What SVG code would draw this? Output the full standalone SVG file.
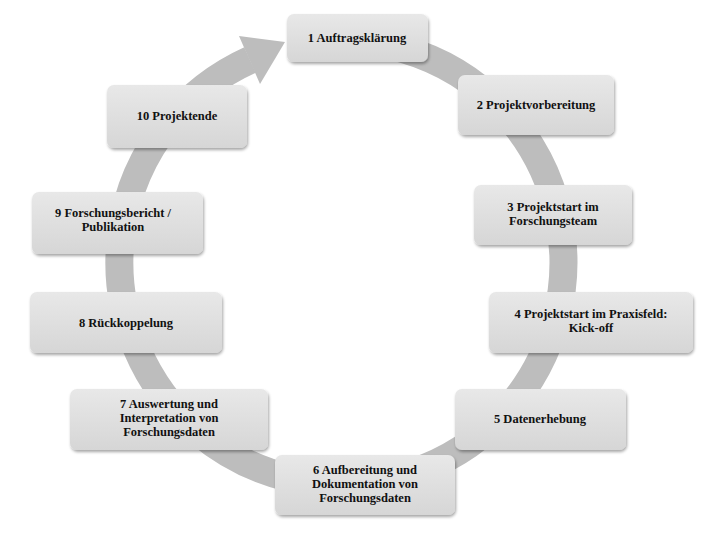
<svg xmlns="http://www.w3.org/2000/svg" width="715" height="542" viewBox="0 0 715 542">
<defs>
<linearGradient id="g" x1="0" y1="0" x2="0" y2="1"><stop offset="0" stop-color="#e8e8e8"/><stop offset="1" stop-color="#d6d6d6"/></linearGradient>
<filter id="s" x="-10%" y="-10%" width="125%" height="135%"><feDropShadow dx="1" dy="2" stdDeviation="1.5" flood-color="#000" flood-opacity="0.35"/></filter>
</defs>
<style>
.b{fill:url(#g);filter:url(#s)}
.t{font-family:'Liberation Serif','Times New Roman',serif;font-weight:bold;font-size:12.5px;text-anchor:middle;fill:#111}
</style>
<rect width="715" height="542" fill="#fff"/>
<g id="connectors">
<path d="M300 44.2 A222 222 0 1 1 250 60" fill="none" stroke="#bdbdbd" stroke-width="28"/>
<polygon points="285,42 239,36 260,84" fill="#bdbdbd"/>
</g>
<g class="t" font-family="Liberation Serif, serif">
<g id="n1"><rect class="b" x="287" y="14" width="141" height="48" rx="7"/><text x="357" y="42">1 Auftragsklärung</text></g>
<g id="n2"><rect class="b" x="458" y="75" width="156" height="60" rx="7"/><text x="536" y="109">2 Projektvorbereitung</text></g>
<g id="n3"><rect class="b" x="474" y="185" width="158" height="60" rx="7"/><text x="553" y="211">3 Projektstart im</text><text x="553" y="225">Forschungsteam</text></g>
<g id="n4"><rect class="b" x="489" y="292" width="204" height="61" rx="7"/><text x="591" y="318">4 Projektstart im Praxisfeld:</text><text x="591" y="332">Kick-off</text></g>
<g id="n5"><rect class="b" x="455" y="389" width="171" height="61" rx="7"/><text x="540" y="423">5 Datenerhebung</text></g>
<g id="n6"><rect class="b" x="275" y="455" width="180" height="60" rx="7"/><text x="365" y="474">6 Aufbereitung und</text><text x="365" y="488">Dokumentation von</text><text x="365" y="502">Forschungsdaten</text></g>
<g id="n7"><rect class="b" x="70" y="389" width="198" height="61" rx="7"/><text x="169" y="408">7 Auswertung und</text><text x="169" y="422">Interpretation von</text><text x="169" y="436">Forschungsdaten</text></g>
<g id="n8"><rect class="b" x="30" y="292" width="192" height="61" rx="7"/><text x="126" y="327">8 Rückkoppelung</text></g>
<g id="n9"><rect class="b" x="32" y="192" width="171" height="62" rx="7"/><text x="113" y="217">9 Forschungsbericht  /</text><text x="113" y="231">Publikation</text></g>
<g id="n10"><rect class="b" x="107" y="85" width="140" height="63" rx="7"/><text x="177" y="120">10 Projektende</text></g>
</g>
</svg>
